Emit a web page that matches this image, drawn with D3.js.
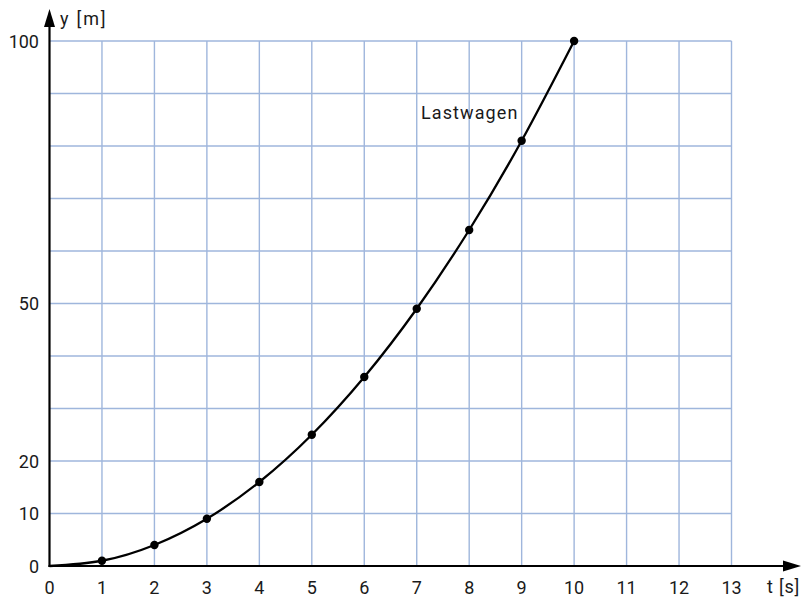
<!DOCTYPE html>
<html><head><meta charset="utf-8">
<script src="https://cdn.jsdelivr.net/npm/d3@7"></script>
<style>body{margin:0;background:#fff}svg{display:block}text{font-family:Roboto,"Liberation Sans",sans-serif;fill:#1a1a1a}</style>
</head><body>
<script>
const times = [0,1,2,3,4,5,6,7,8,9,10];
const distances = [0,1,4,9,16,25,36,49,64,81,100];
const xTicks = [0,1,2,3,4,5,6,7,8,9,10,11,12,13];
const yTickLabels = [0,10,20,50,100];
const yGrid = [10,20,30,40,50,60,70,80,90,100];
const seriesLabel = "Lastwagen";

const W=801,H=597;
const svg=d3.select("body").append("svg").attr("width",W).attr("height",H);
const x=d3.scaleLinear().domain([0,13]).range([49.5,731.5]);
const y=d3.scaleLinear().domain([0,100]).range([566,41]);
const grid="#9fb6dc";

// grid
svg.append("g").selectAll("line").data(xTicks.filter(d=>d>0)).join("line")
  .attr("x1",d=>x(d)).attr("x2",d=>x(d)).attr("y1",y(0)).attr("y2",y(100))
  .attr("stroke",grid).attr("stroke-width",1.4);
svg.append("g").selectAll("line").data(yGrid).join("line")
  .attr("x1",x(0)).attr("x2",x(13)).attr("y1",d=>y(d)).attr("y2",d=>y(d))
  .attr("stroke",grid).attr("stroke-width",1.4);

// axes
svg.append("line").attr("x1",x(0)-1).attr("x2",786).attr("y1",y(0)).attr("y2",y(0)).attr("stroke","#000").attr("stroke-width",2.2);
svg.append("path").attr("d",`M801,${y(0)} L783,${y(0)-5.5} L783,${y(0)+5.5}Z`).attr("fill","#000");
svg.append("line").attr("x1",x(0)).attr("x2",x(0)).attr("y1",y(0)+1).attr("y2",24).attr("stroke","#000").attr("stroke-width",2.2);
svg.append("path").attr("d",`M${x(0)},9 L${x(0)-5.5},27 L${x(0)+5.5},27Z`).attr("fill","#000");

// tick labels
svg.append("g").selectAll("text").data(xTicks).join("text")
  .attr("x",d=>x(d)).attr("y",594).attr("text-anchor","middle").attr("font-size",18).text(d=>d);
svg.append("g").selectAll("text").data(yTickLabels).join("text")
  .attr("x",39).attr("y",d=>y(d)+6.5).attr("text-anchor","end").attr("font-size",18).text(d=>d);
svg.append("text").attr("x",767).attr("y",593).attr("font-size",18).attr("letter-spacing",0.8).text("t [s]");
svg.append("text").attr("x",60).attr("y",25).attr("font-size",18).attr("letter-spacing",1.8).text("y [m]");

// curve
const pts=times.map((t,i)=>[t,distances[i]]);
svg.append("path").datum(pts)
  .attr("d",d3.line().x(d=>x(d[0])).y(d=>y(d[1])).curve(d3.curveNatural))
  .attr("fill","none").attr("stroke","#000").attr("stroke-width",2.3);
svg.append("g").selectAll("circle").data(pts.slice(1)).join("circle")
  .attr("cx",d=>x(d[0])).attr("cy",d=>y(d[1])).attr("r",4.2).attr("fill","#000");

svg.append("text").attr("x",421).attr("y",119).attr("font-size",18).attr("letter-spacing",1.1).text(seriesLabel);
</script>
</body></html>
